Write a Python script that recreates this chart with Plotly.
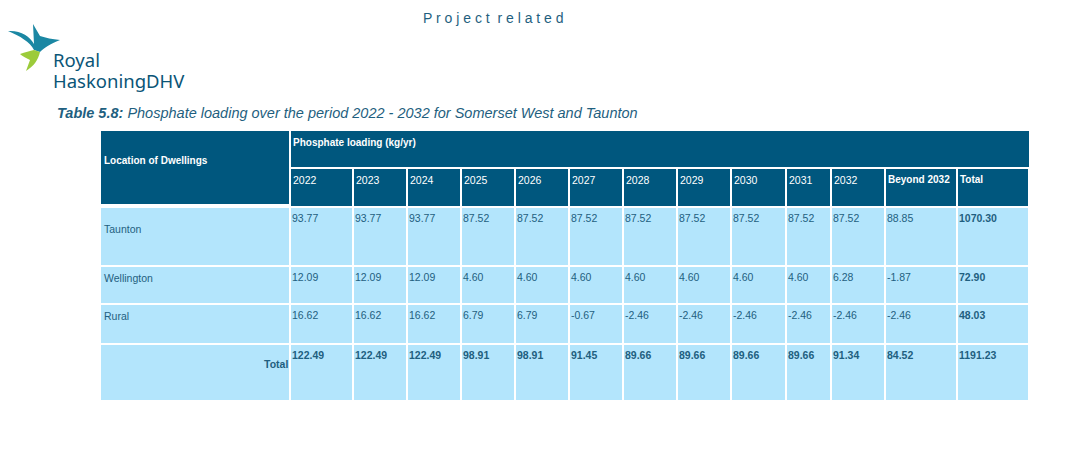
import plotly.graph_objects as go

# table data
locations = ["Taunton", "Wellington", "Rural"]
years = ["2022", "2023", "2024", "2025", "2026", "2027", "2028", "2029", "2030", "2031", "2032", "Beyond 2032", "Total"]
taunton = ["93.77", "93.77", "93.77", "87.52", "87.52", "87.52", "87.52", "87.52", "87.52", "87.52", "87.52", "88.85", "1070.30"]
wellington = ["12.09", "12.09", "12.09", "4.60", "4.60", "4.60", "4.60", "4.60", "4.60", "4.60", "6.28", "-1.87", "72.90"]
rural = ["16.62", "16.62", "16.62", "6.79", "6.79", "-0.67", "-2.46", "-2.46", "-2.46", "-2.46", "-2.46", "-2.46", "48.03"]
totals = ["122.49", "122.49", "122.49", "98.91", "98.91", "91.45", "89.66", "89.66", "89.66", "89.66", "91.34", "84.52", "1191.23"]

# layout in pixel coordinates (page pixels)
col_edges = [290, 353, 407, 461, 515, 569, 623, 677, 731, 786, 831, 885, 957, 1029]
row_edges = [207, 266, 304, 344, 401]
DARK = "#00577e"
LIGHT = "#b3e5fc"
TXT = "#1f5f80"

fig = go.Figure()
shapes = []
ann = []

def rect(x0, y0, x1, y1, c):
    shapes.append(dict(type="rect", x0=x0, x1=x1, y0=y0, y1=y1, fillcolor=c, line=dict(width=0), layer="below"))

def text(x, y, s, color=TXT, size=10.5, bold=False, xanchor="left", family="Liberation Sans, Arial"):
    ann.append(dict(x=x, y=y, text=f"<b>{s}</b>" if bold else s, showarrow=False, xanchor=xanchor, yanchor="top",
                    align="left", font=dict(color=color, size=size, family=family)))

# header
rect(101, 131, 289, 204, DARK)
text(102, 153, "Location of Dwellings", "white", bold=True, size=10)
rect(291, 131, 1029, 167, DARK)
text(291, 135, "Phosphate loading (kg/yr)", "white", bold=True, size=10)
for i, y in enumerate(years):
    x0, x1 = col_edges[i] + 1, col_edges[i + 1] - 1
    rect(x0, 169, x1, 206, DARK)
    text(x0, 172, y, "white", bold=(i >= 11), size=10.5 if i < 11 else 10)

rows = [taunton, wellington, rural, totals]
for r, vals in enumerate(rows):
    y0, y1 = row_edges[r] + 1, row_edges[r + 1] - 1
    rect(101, y0, 289, y1, LIGHT)
    if r < 3:
        text(102, y0 + (13 if r == 0 else 3), locations[r])
    else:
        text(290, y0 + 11, "Total", bold=True, xanchor="right")
    for i, v in enumerate(vals):
        text(col_edges[i], y0 + 2, v, bold=(r == 3 or i == 12), size=10.5)
    for i in range(len(vals)):
        rect(col_edges[i] + 1, y0, col_edges[i + 1] - 1, y1, LIGHT)

# titles and logo
text(493, 8, "P r o j e c t  r e l a t e d", color="#1f5f80", size=14, xanchor="center")
ann.append(dict(x=55, y=103, xanchor="left", yanchor="top", showarrow=False,
                text="<b><i>Table 5.8:</i></b><i> Phosphate loading over the period 2022 - 2032 for Somerset West and Taunton</i>",
                font=dict(color="#1f5f80", size=14.5, family="Liberation Sans, Arial")))
text(51, 45, "Royal", color="#0b5577", size=18.5, family="Noto Sans")
text(51, 66, "HaskoningDHV", color="#0b5577", size=18.5, family="Noto Sans")
shapes.append(dict(type="path", path="M8,31 C20,30 30,36 34,44 L33,24 L40,36 C46,38 52,39 60,40 C50,44 44,48 40,52 L34,50 C30,42 20,36 8,31 Z",
                   fillcolor="#1b87a3", line=dict(width=0)))
shapes.append(dict(type="path", path="M34,50 L40,52 C38,60 34,66 26,71 L30,60 C26,58 22,56 20,54 C25,52 30,51 34,50 Z",
                   fillcolor="#9ccb3b", line=dict(width=0)))

fig.update_layout(width=1083, height=465, margin=dict(l=0, r=0, t=0, b=0),
                  paper_bgcolor="white", plot_bgcolor="white",
                  xaxis=dict(range=[8, 1091], visible=False, fixedrange=True),
                  yaxis=dict(range=[473, 8], visible=False, fixedrange=True),
                  shapes=shapes, annotations=ann, showlegend=False)
fig.write_html("out.html")
